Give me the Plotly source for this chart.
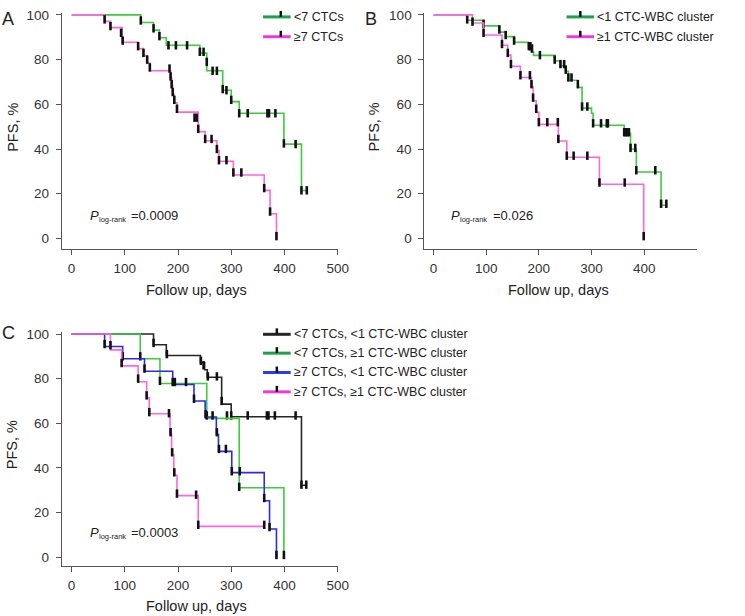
import plotly.graph_objects as go

# canvas size (px)
W, H = 745, 616

# ---- data: Kaplan-Meier steps (days, PFS %) and censor marks ----
# Panel A
A_LO_T = [0, 130, 154, 165, 178, 241, 254, 284, 300, 315, 399, 432, 442]
A_LO_S = [100, 96.6, 93.2, 89.8, 86.4, 82.9, 75.0, 66.3, 61.2, 56.0, 42.2, 21.4, 21.4]
A_LO_CT = [130, 154, 165, 182, 196, 217, 241, 248, 254, 265, 273, 284, 291, 300, 315, 331, 368, 371, 383, 399, 421, 432, 442]
A_LO_CS = [97.5, 94, 90.5, 86.4, 86.4, 86.4, 83.5, 83.5, 79, 75, 75, 66.8, 66.3, 62, 56, 56, 56, 56, 56, 42.5, 42.2, 21.5, 21.5]

A_HI_T = [0, 62, 73, 95, 125, 135, 142, 147, 186, 188, 190, 193, 198, 238, 251, 273, 277, 304, 362, 373, 385]
A_HI_S = [100, 97.1, 94.3, 87.8, 84.9, 81.8, 78.5, 75.0, 71.8, 68.4, 64.5, 60.7, 56.5, 47.8, 43.7, 39.3, 34.5, 28.4, 21.5, 11.0, 0]
A_HI_CT = [62, 73, 93, 96, 125, 135, 142, 147, 184, 186, 188, 190, 193, 198, 231, 235, 238, 251, 263, 273, 277, 291, 304, 319, 362, 373, 385]
A_HI_CS = [98, 95, 92, 88.5, 86, 83, 80, 76.5, 76, 72.5, 69, 65.5, 62, 58, 54, 54, 49, 44.5, 44.5, 40, 35, 35, 29.5, 29.5, 22.5, 12, 1]

# Panel B
B_LO_T = [0, 64, 95, 125, 137, 153, 180, 186, 190, 230, 241, 251, 256, 274, 282, 300, 303, 362, 374, 385, 432, 442]
B_LO_S = [100, 97.6, 95.1, 92.3, 90.3, 87.8, 85.8, 83.4, 81.9, 79.4, 77.2, 74.8, 70.8, 67.6, 58.3, 56.0, 50.6, 47.0, 40.0, 29.7, 14.8, 14.8]
B_LO_CT = [64, 95, 125, 137, 153, 181, 184, 187, 202, 230, 241, 248, 251, 256, 262, 274, 282, 292, 303, 318, 329, 331, 362, 365, 368, 371, 374, 383, 385, 421, 432, 442]
B_LO_CS = [98, 96, 93.5, 91, 88.5, 86, 86, 85, 82, 80, 78, 78, 75.5, 72, 72, 69, 59, 59, 51.5, 51.5, 51.5, 51.5, 47.5, 47.5, 47.5, 47.5, 40.5, 40.5, 30.5, 30.5, 15.5, 15.5]

B_HI_T = [0, 74, 95, 130, 141, 147, 165, 186, 189, 195, 200, 237, 253, 315, 399]
B_HI_S = [100, 96.4, 91.0, 86.4, 82.0, 77.0, 72.0, 67.8, 61.6, 56.4, 51.0, 43.6, 36.3, 24.2, 0]
B_HI_CT = [74, 95, 130, 141, 147, 165, 183, 186, 189, 195, 200, 216, 236, 237, 253, 266, 292, 315, 363, 399]
B_HI_CS = [97, 92, 87, 83, 78, 73, 73, 69, 63, 58, 52, 52, 52, 44.5, 37, 37, 37, 25, 25, 1]

# Panel C
C1_T = [0, 154, 178, 242, 250, 255, 282, 300, 432, 441]
C1_S = [100, 95.2, 90.4, 87.2, 84.0, 80.6, 68.6, 62.9, 32.2, 32.2]
C1_CT = [154, 179, 243, 248, 256, 273, 282, 292, 300, 331, 367, 370, 382, 421, 432, 441]
C1_CS = [96, 91, 88, 86, 81, 81, 70, 63.5, 63.5, 63.5, 63.5, 63.5, 63.5, 63.5, 32.5, 32.5]

C2_T = [0, 129, 166, 254, 315, 399]
C2_S = [100, 88.9, 77.8, 62.2, 31.1, 0]
C2_CT = [129, 166, 254, 315, 399]
C2_CS = [90, 79, 63.5, 31.5, 1]

C3_T = [0, 62, 96, 137, 190, 230, 251, 272, 276, 301, 362, 372, 385]
C3_S = [100, 94.4, 88.9, 83.3, 77.4, 70.0, 62.8, 55.0, 47.4, 37.9, 25.3, 12.6, 0]
C3_CT = [62, 96, 137, 190, 194, 215, 230, 252, 265, 273, 277, 290, 301, 316, 362, 372, 385]
C3_CS = [95.5, 90, 84.5, 78.5, 78.5, 78.5, 71, 64, 63.5, 56, 48.5, 48.5, 38.5, 38.5, 26.5, 13.5, 1]

C4_T = [0, 73, 94, 125, 141, 146, 185, 188, 192, 198, 238, 362]
C4_S = [100, 92.9, 85.7, 78.6, 71.4, 64.3, 55.1, 45.9, 36.7, 27.6, 13.8, 13.8]
C4_CT = [73, 94, 125, 141, 146, 183, 186, 189, 193, 198, 234, 238, 362]
C4_CS = [95, 87, 80, 72.5, 65, 64.5, 56, 47, 38, 28.5, 28, 14.5, 14.5]

A_LABELS = ["<7 CTCs", "≥7 CTCs"]
B_LABELS = ["<1 CTC-WBC cluster", "≥1 CTC-WBC cluster"]
C_LABELS = ["<7 CTCs, <1 CTC-WBC cluster", "<7 CTCs, ≥1 CTC-WBC cluster",
            "≥7 CTCs, <1 CTC-WBC cluster", "≥7 CTCs, ≥1 CTC-WBC cluster"]
P_VALUES = ["0.0009", "0.026", "0.0003"]
X_TICKS = [0, 100, 200, 300, 400, 500]
Y_TICKS = [0, 20, 40, 60, 80, 100]

GREEN, PINK, BLUE, BLACK = "#3ccc3c", "#ff66dd", "#2a2aee", "#262626"
LEG_COLORS_AB = ["#1aa34a", "#f03ad8"]
LEG_COLORS_C = ["#262626", "#1aa34a", "#2a3aee", "#f03ad8"]
FONT = "Liberation Sans, Arial, sans-serif"


def px(x):
    return x / W


def py(y):
    return 1 - y / H


fig = go.Figure()


def add_km(t, s, ct, cs, color, ax):
    fig.add_trace(go.Scatter(x=t, y=s, mode="lines", line=dict(color=color, width=1.6, shape="hv"),
                             xaxis="x" + ax, yaxis="y" + ax, showlegend=False, hoverinfo="skip"))
    fig.add_trace(go.Scatter(x=ct, y=cs, mode="markers", cliponaxis=False,
                             marker=dict(symbol="line-ns", size=6, line=dict(color="#111", width=2.6)),
                             xaxis="x" + ax, yaxis="y" + ax, showlegend=False, hoverinfo="skip"))


add_km(A_LO_T, A_LO_S, A_LO_CT, A_LO_CS, GREEN, "")
add_km(A_HI_T, A_HI_S, A_HI_CT, A_HI_CS, PINK, "")
add_km(B_LO_T, B_LO_S, B_LO_CT, B_LO_CS, GREEN, "2")
add_km(B_HI_T, B_HI_S, B_HI_CT, B_HI_CS, PINK, "2")
add_km(C1_T, C1_S, C1_CT, C1_CS, BLACK, "3")
add_km(C2_T, C2_S, C2_CT, C2_CS, GREEN, "3")
add_km(C3_T, C3_S, C3_CT, C3_CS, BLUE, "3")
add_km(C4_T, C4_S, C4_CT, C4_CS, PINK, "3")


def xaxis(left, right, zero_px, per_day):
    return dict(domain=[px(left), px(right)],
                range=[(left - zero_px) / per_day, (right - zero_px) / per_day],
                tickvals=X_TICKS, showgrid=False, zeroline=False, showline=True,
                linecolor="#555", linewidth=1, ticks="outside", ticklen=5, tickcolor="#555",
                ticklabelstandoff=2, tickfont=dict(family=FONT, size=13.5, color="#333"))


def yaxis(top, bottom, hundred_px, zero_px, anchor):
    per = (zero_px - hundred_px) / 100
    return dict(domain=[py(bottom), py(top)],
                range=[(zero_px - bottom) / per, (zero_px - top) / per],
                tickvals=Y_TICKS, showgrid=False, zeroline=False, showline=True, anchor=anchor,
                linecolor="#555", linewidth=1, ticks="outside", ticklen=5, tickcolor="#555",
                ticklabelstandoff=4, tickfont=dict(family=FONT, size=13.5, color="#333"))


annotations = []
shapes = []


def note(text, x, y, size, xanchor="left", angle=0):
    annotations.append(dict(text=text, x=px(x), y=py(y), xref="paper", yref="paper",
                            xanchor=xanchor, yanchor="middle", showarrow=False, textangle=angle,
                            borderpad=0, font=dict(family=FONT, size=size, color="#222")))


def legend(labels, colors, x0, x1, tick_x, rows):
    for lab, col, yy in zip(labels, colors, rows):
        shapes.append(dict(type="line", xref="paper", yref="paper", x0=px(x0), x1=px(x1),
                           y0=py(yy), y1=py(yy), line=dict(color=col, width=3)))
        shapes.append(dict(type="line", xref="paper", yref="paper", x0=px(tick_x), x1=px(tick_x),
                           y0=py(yy - 6), y1=py(yy), line=dict(color="#111", width=2.5)))
        note(lab, x1 + 2, yy, 12.5)


# panel letters
note("A", 1, 14, 18)
note("B", 369, 14, 18)
note("C", 1, 331, 18)

# axis titles
for cx, fy in [(199, 287), (567, 287), (199, 606)]:
    note("Follow up, days", cx, fy, 14.5, xanchor="center")
for cx, cy in [(13, 123), (380, 123), (13, 443)]:
    note("PFS, %", cx, cy, 14.5, xanchor="center", angle=-90)

# p-values: italic P, small "log-rank" subscript, then the value
for (x, y), p in zip([(90, 212), (457, 212), (90, 532)], P_VALUES):
    note("<i>P</i>", x, y, 13)
    note("log-rank", x + 9, y + 4, 7.5)
    note("=" + p, x + 42, y, 13)

legend(A_LABELS, LEG_COLORS_AB, 267, 295, 285, [12, 32])
legend(B_LABELS, LEG_COLORS_AB, 575, 603, 589, [12, 32])
legend(C_LABELS, LEG_COLORS_C, 267, 295, 281, [332, 351, 370.5, 390])

fig.update_layout(
    width=W, height=H, margin=dict(l=0, r=0, t=0, b=0),
    paper_bgcolor="white", plot_bgcolor="white", showlegend=False,
    xaxis=xaxis(62.7, 343.3, 72.7, 0.54),
    yaxis=yaxis(8, 246, 10, 235.3, "x"),
    xaxis2=xaxis(430.7, 707.3, 440, 0.5347) | dict(anchor="y2"),
    yaxis2=yaxis(8, 246, 10, 235.3, "x2"),
    xaxis3=xaxis(62.7, 343.3, 72.7, 0.54) | dict(anchor="y3"),
    yaxis3=yaxis(329.7, 565.7, 331.7, 556.7, "x3"),
    annotations=annotations, shapes=shapes,
)

# drop the page's default body margin so the figure sits at the window's corner
fig.write_html("out.html", config={"displayModeBar": False},
               post_script="document.body.style.margin='0';")
